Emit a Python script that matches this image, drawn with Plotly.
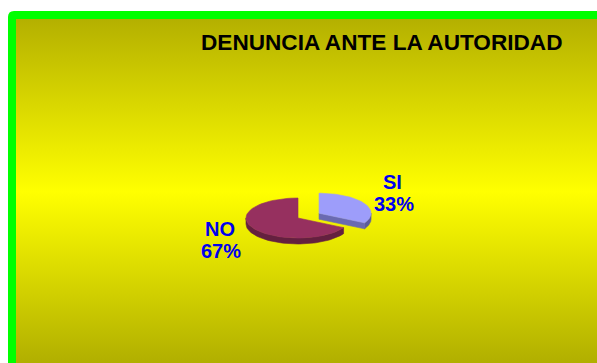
import numpy as np
import plotly.graph_objects as go

# Data
categories = ["SI", "NO"]
values = [33, 67]
title_text = "DENUNCIA ANTE LA AUTORIDAD"

# Styling
top_colors = ["#9D9DFA", "#96305F"]
side_colors = ["#5C5C9C", "#64203F"]
cut_colors = ["#6A6AB0", "#7A2850"]
label_color = "#0000EE"
FONT = "Liberation Sans, Arial, sans-serif"

W, H = 597, 363
cx, cy = 298, 218          # pie centre in pixel space
rx, ry = 52, 20            # ellipse radii of the tilted pie
depth = 6                  # thickness of the 3D pie
explode = [0.47, 0.0]
start_angle = 90.0         # slices run clockwise from 12 o'clock
label_offsets = [((94, -36), (96, -14)), ((-78, 11), (-77, 33))]

fig = go.Figure()

# Gradient panel inside the green frame
fig.add_trace(go.Scatter(
    x=[16, W + 2, W + 2, 16, 16], y=[19, 19, H + 2, H + 2, 19],
    fill="toself", mode="none",
    fillgradient=dict(type="vertical",
                      colorscale=[[0, "#B0AE00"], [0.5, "#FFFF00"], [1, "#B4B000"]]),
    hoverinfo="skip", showlegend=False))


def arc(ox, oy, a_from, a_to, dz=0.0, n=60):
    ang = np.radians(np.linspace(a_from, a_to, n))
    return ox + rx * np.cos(ang), oy - ry * np.sin(ang) + dz


def poly(xs, ys, color):
    fig.add_trace(go.Scatter(
        x=list(xs) + [xs[0]], y=list(ys) + [ys[0]], mode="lines", fill="toself",
        fillcolor=color, line=dict(color=color, width=0.6),
        hoverinfo="skip", showlegend=False))


total = float(sum(values))
slices = []
a = start_angle
for i, v in enumerate(values):
    sweep = 360.0 * v / total
    a_hi, a_lo = a, a - sweep
    mid = np.radians((a_hi + a_lo) / 2)
    ox = cx + explode[i] * rx * np.cos(mid)
    oy = cy - explode[i] * ry * np.sin(mid)
    slices.append((i, a_hi, a_lo, ox, oy))
    a = a_lo

# farther (higher on screen) slices are painted first
for i, a_hi, a_lo, ox, oy in sorted(slices, key=lambda s: s[4]):
    # outer wall: only the front half of the rim is visible
    for k in range(-2, 2):
        lo = max(a_lo, -180 + 360 * k)
        hi = min(a_hi, 360 * k)
        if hi - lo > 0.1:
            tx, ty = arc(ox, oy, hi, lo)
            bx, by = arc(ox, oy, lo, hi, depth)
            poly(np.r_[tx, bx], np.r_[ty, by], side_colors[i])
    # radial cut faces facing the viewer
    for ang, normal in ((a_hi, a_hi + 90), (a_lo, a_lo - 90)):
        if np.sin(np.radians(normal)) < -1e-6:
            ex, ey = arc(ox, oy, ang, ang, 0, 1)
            poly([ox, ex[0], ex[0], ox], [oy, ey[0], ey[0] + depth, oy + depth], cut_colors[i])
    # top face
    tx, ty = arc(ox, oy, a_hi, a_lo)
    poly(np.r_[ox, tx], np.r_[oy, ty], top_colors[i])

annotations = [dict(x=382, y=42.3, text="<b>" + title_text + "</b>",
                    font=dict(family=FONT, size=22.6, color="black"))]
for i, name in enumerate(categories):
    pct = f"{round(100 * values[i] / total)}%"
    (dx1, dy1), (dx2, dy2) = label_offsets[i]
    annotations.append(dict(x=cx + dx1, y=cy + dy1, text=f"<b>{name}</b>",
                            font=dict(family=FONT, size=20, color=label_color)))
    annotations.append(dict(x=cx + dx2, y=cy + dy2, text=f"<b>{pct}</b>",
                            font=dict(family=FONT, size=20, color=label_color)))
for an in annotations:
    an.update(xref="x", yref="y", showarrow=False, xanchor="center", yanchor="middle")

fig.update_layout(
    width=W, height=H,
    margin=dict(l=0, r=0, t=0, b=0),
    paper_bgcolor="white", plot_bgcolor="white",
    xaxis=dict(range=[0, W], visible=False, fixedrange=True),
    yaxis=dict(range=[H, 0], visible=False, fixedrange=True),
    showlegend=False,
    annotations=annotations,
    shapes=[dict(type="path", xref="x", yref="y", layer="below",
                 path=f"M 8,{H + 5} L 8,17 Q 8,11 14,11 L {W + 5},11 L {W + 5},{H + 5} Z",
                 fillcolor="#00FF00", line=dict(width=0))],
)

fig.write_html("out.html")
